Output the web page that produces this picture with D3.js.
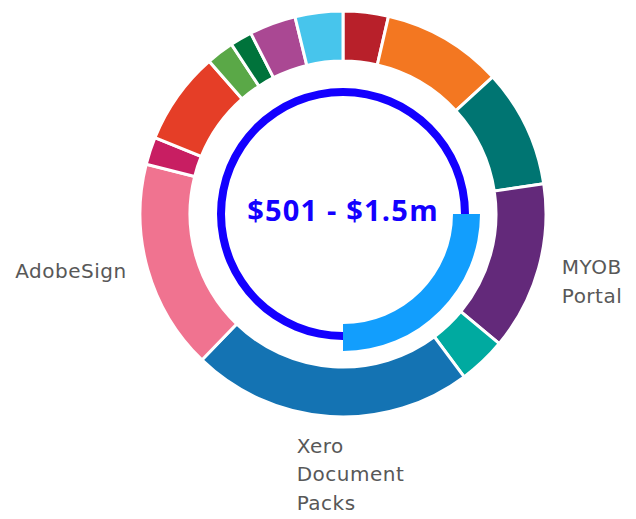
<!DOCTYPE html>
<html>
<head>
<meta charset="utf-8">
<script src="https://cdn.jsdelivr.net/npm/d3@7"></script>
<style>
  html, body { margin: 0; padding: 0; background: #fff; }
  svg { display: block; }
  .seg-label { font-family: "DejaVu Sans", sans-serif; font-size: 20px; letter-spacing: 0.5px; fill: #585858; }
  .center-label { font-family: "Open Sans", sans-serif; font-weight: 700; font-size: 29px; letter-spacing: 1.2px; fill: #1400ff; }
</style>
</head>
<body>
<svg id="chart" width="636" height="519"></svg>
<script>
// Outer ring, clockwise from 12 o'clock
const categories = [
  "Segment 1", "Segment 2", "Segment 3", "MYOB Portal", "Segment 5",
  "Xero Document Packs", "AdobeSign", "Segment 8", "Segment 9",
  "Segment 10", "Segment 11", "Segment 12", "Segment 13"
];
const values = [3.6, 9.6, 9.4, 13.4, 3.8, 22.4, 16.7, 2.2, 7.4, 2.2, 1.75, 3.7, 3.8];
const colors = [
  "#b8202a", "#f37721", "#007572", "#63297a", "#00aaa0",
  "#1473b3", "#f07390", "#c81e62", "#e53e27", "#5aa847",
  "#00733b", "#aa4893", "#47c5ec"
];

// Inner gauge: selected band as a share of the full circle
const rangeLabel = "$501 - $1.5m";
const bandStart = [0.25];
const bandEnd = [0.5];

const labelMin = 10; // only label segments at least this big

function drawChart() {
  const svg = d3.select("#chart");
  const cx = 343, cy = 214;

  const g = svg.append("g").attr("transform", `translate(${cx},${cy})`);

  const pie = d3.pie().sort(null).value(d => d.value);
  const data = categories.map((c, i) => ({ name: c, value: values[i], color: colors[i] }));
  const arcs = pie(data);

  const arc = d3.arc().innerRadius(153).outerRadius(203);

  g.selectAll("path.seg")
    .data(arcs)
    .join("path")
    .attr("class", "seg")
    .attr("d", arc)
    .attr("fill", d => d.data.color)
    .attr("stroke", "#fff")
    .attr("stroke-width", 3);

  // inner blue ring
  const angle = d3.scaleLinear().domain([0, 1]).range([0, 2 * Math.PI]);
  g.append("path")
    .attr("d", d3.arc().innerRadius(118).outerRadius(126)({ startAngle: angle(0), endAngle: angle(1) }))
    .attr("fill", "#1400ff");

  g.selectAll("path.band")
    .data(bandStart.map((s, i) => ({ startAngle: angle(s), endAngle: angle(bandEnd[i]) })))
    .join("path")
    .attr("class", "band")
    .attr("d", d3.arc().innerRadius(110).outerRadius(137))
    .attr("fill", "#129efd");

  g.append("text")
    .attr("class", "center-label")
    .attr("text-anchor", "middle")
    .attr("y", 7)
    .text(rangeLabel);

  // labels for the larger segments
  const lineH = 28.5;
  const wrapW = 110;
  const labelR = 225;

  arcs.filter(d => d.data.value >= labelMin).forEach(d => {
    const a = (d.startAngle + d.endAngle) / 2;
    const px = Math.sin(a) * labelR;
    const py = -Math.cos(a) * labelR;

    const t = g.append("text").attr("class", "seg-label");
    // wrap words into lines
    const words = d.data.name.split(" ");
    const lines = [];
    let cur = [];
    words.forEach(w => {
      const test = cur.concat(w).join(" ");
      const probe = t.append("tspan").text(test);
      const wd = probe.node().getComputedTextLength();
      probe.remove();
      if (wd > wrapW && cur.length) { lines.push(cur.join(" ")); cur = [w]; }
      else cur.push(w);
    });
    lines.push(cur.join(" "));

    const spans = lines.map((l, i) => t.append("tspan").attr("dy", i ? lineH : 0).text(l));
    const blockW = d3.max(spans, s => s.node().getComputedTextLength());

    const s = Math.sin(a), c = Math.cos(a);
    let x0, y0;
    if (s > 0.5) { x0 = px + 2; y0 = py; }
    else if (s < -0.5) { x0 = px - blockW; y0 = py + 2; }
    else { x0 = px - blockW / 2 + 22; y0 = py + 14; }

    spans.forEach(sp => sp.attr("x", x0));
    t.attr("y", y0);
  });
}

drawChart();
</script>
</body>
</html>
